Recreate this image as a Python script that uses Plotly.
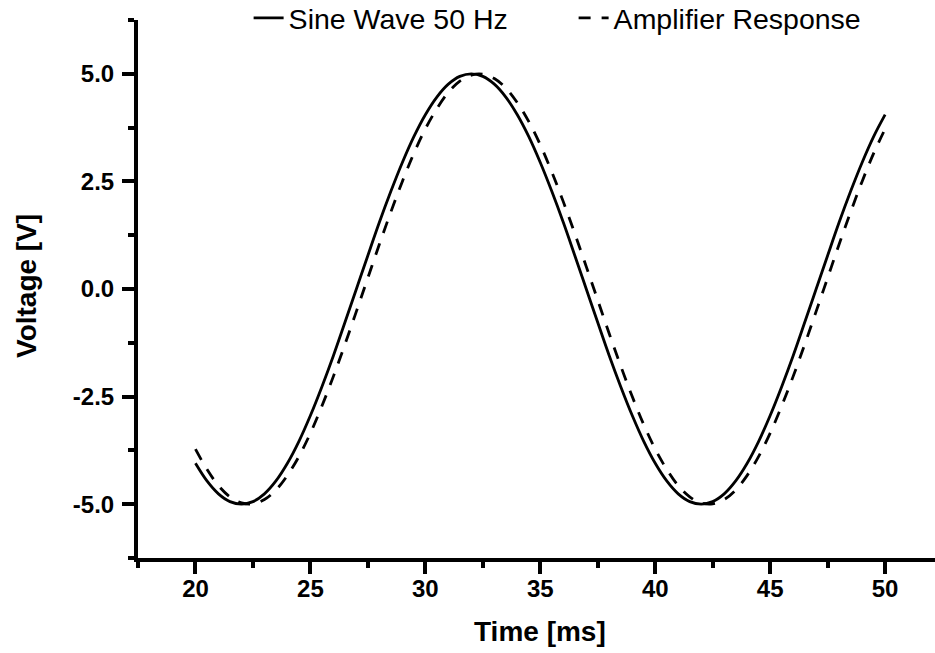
import plotly.graph_objects as go

# ---- data ----
time_ms = [20.0, 20.5, 21.0, 21.5, 22.0, 22.5, 23.0, 23.5, 24.0, 24.5,
           25.0, 25.5, 26.0, 26.5, 27.0, 27.5, 28.0, 28.5, 29.0, 29.5,
           30.0, 30.5, 31.0, 31.5, 32.0, 32.5, 33.0, 33.5, 34.0, 34.5,
           35.0, 35.5, 36.0, 36.5, 37.0, 37.5, 38.0, 38.5, 39.0, 39.5,
           40.0, 40.5, 41.0, 41.5, 42.0, 42.5, 43.0, 43.5, 44.0, 44.5,
           45.0, 45.5, 46.0, 46.5, 47.0, 47.5, 48.0, 48.5, 49.0, 49.5,
           50.0]

sine_50hz = [-4.05, -4.46, -4.76, -4.94, -5.00, -4.94, -4.76, -4.46, -4.05, -3.54,
             -2.94, -2.27, -1.55, -0.78, 0.00, 0.78, 1.55, 2.27, 2.94, 3.54,
             4.05, 4.46, 4.76, 4.94, 5.00, 4.94, 4.76, 4.46, 4.05, 3.54,
             2.94, 2.27, 1.55, 0.78, 0.00, -0.78, -1.55, -2.27, -2.94, -3.54,
             -4.05, -4.46, -4.76, -4.94, -5.00, -4.94, -4.76, -4.46, -4.05, -3.54,
             -2.94, -2.27, -1.55, -0.78, 0.00, 0.78, 1.55, 2.27, 2.94, 3.54,
             4.05]

amplifier = [-3.72, -4.19, -4.57, -4.83, -4.97, -4.99, -4.89, -4.67, -4.33, -3.89,
             -3.35, -2.72, -2.03, -1.29, -0.52, 0.26, 1.04, 1.79, 2.50, 3.15,
             3.72, 4.19, 4.57, 4.83, 4.97, 4.99, 4.89, 4.67, 4.33, 3.89,
             3.35, 2.72, 2.03, 1.29, 0.52, -0.26, -1.04, -1.79, -2.50, -3.15,
             -3.72, -4.19, -4.57, -4.83, -4.97, -4.99, -4.89, -4.67, -4.33, -3.89,
             -3.35, -2.72, -2.03, -1.29, -0.52, 0.26, 1.04, 1.79, 2.50, 3.15,
             3.72]

x_tick_vals = [20, 25, 30, 35, 40, 45, 50]
x_tick_text = ["20", "25", "30", "35", "40", "45", "50"]
y_tick_vals = [-5.0, -2.5, 0.0, 2.5, 5.0]
y_tick_text = ["-5.0", "-2.5", "0.0", "2.5", "5.0"]

series_names = ["Sine Wave 50 Hz", "Amplifier Response"]

FONT = "Arial, Liberation Sans, sans-serif"

fig = go.Figure()
fig.add_trace(go.Scatter(
    x=time_ms, y=sine_50hz, name=series_names[0], mode="lines",
    line=dict(color="black", width=2.8, shape="spline"),
))
fig.add_trace(go.Scatter(
    x=time_ms, y=amplifier, name=series_names[1], mode="lines",
    line=dict(color="black", width=2.8, dash="12px,11px", shape="spline"),
))

W, H = 935, 653
ml, mr, mt, mb = 138, 0, 20, 95

fig.update_layout(
    width=W, height=H,
    margin=dict(l=ml, r=mr, t=mt, b=mb, pad=0, autoexpand=False),
    paper_bgcolor="white", plot_bgcolor="white",
    font=dict(family=FONT, color="black"),
    showlegend=True,
    legend=dict(
        orientation="h", xref="container", yref="container",
        x=0.2659, xanchor="left", y=0.972, yanchor="middle",
        entrywidth=280, entrywidthmode="pixels",
        font=dict(family=FONT, size=28.5, color="black"),
        bgcolor="rgba(0,0,0,0)", borderwidth=0,
    ),
    xaxis=dict(
        range=[17.5, 52.17], showgrid=False, zeroline=False,
        showline=True, linecolor="black", linewidth=4,
        ticks="outside", ticklen=12, tickwidth=3.5, tickcolor="black",
        tickmode="array", tickvals=x_tick_vals, ticktext=x_tick_text,
        ticklabelstandoff=-6,
        tickfont=dict(family=FONT, size=24, color="black", weight="bold"),
        minor=dict(ticks="outside", ticklen=6, tickwidth=3.5, tickcolor="black",
                   tick0=17.5, dtick=2.5, showgrid=False),
    ),
    yaxis=dict(
        range=[-6.25, 6.25], showgrid=False, zeroline=False,
        showline=True, linecolor="black", linewidth=4,
        ticks="outside", ticklen=12, tickwidth=3.5, tickcolor="black",
        tickmode="array", tickvals=y_tick_vals, ticktext=y_tick_text,
        ticklabelstandoff=3,
        tickfont=dict(family=FONT, size=24, color="black", weight="bold"),
        minor=dict(ticks="outside", ticklen=6, tickwidth=3.5, tickcolor="black",
                   tick0=-6.25, dtick=1.25, showgrid=False),
    ),
    annotations=[
        dict(text="<b>Time [ms]</b>", xref="paper", yref="paper",
             x=0.5044, y=-0.1375, xanchor="center", yanchor="middle",
             showarrow=False, font=dict(family=FONT, size=28, color="black")),
        dict(text="<b>Voltage [V]</b>", xref="paper", yref="paper",
             x=-0.1393, y=0.5056, xanchor="center", yanchor="middle",
             textangle=-90, showarrow=False,
             font=dict(family=FONT, size=28, color="black")),
    ],
)

fig.write_html("out.html")
